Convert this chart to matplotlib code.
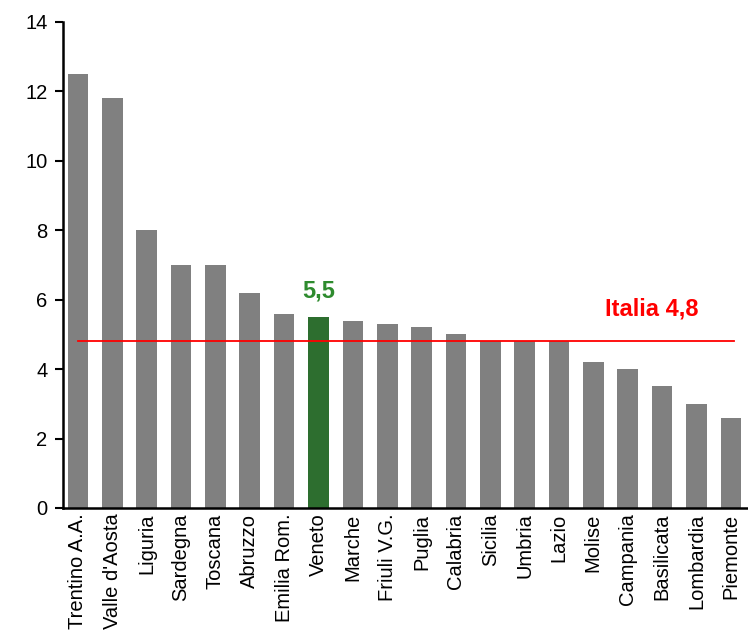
import numpy as np
import matplotlib.pyplot as plt

plt.rcParams['font.family'] = ['Liberation Sans', 'DejaVu Sans']

# regional values
regions = ['Trentino A.A.', "Valle d'Aosta", 'Liguria', 'Sardegna', 'Toscana',
           'Abruzzo', 'Emilia Rom.', 'Veneto', 'Marche', 'Friuli V.G.',
           'Puglia', 'Calabria', 'Sicilia', 'Umbria', 'Lazio', 'Molise',
           'Campania', 'Basilicata', 'Lombardia', 'Piemonte']
values = [12.5, 11.8, 8.0, 7.0, 7.0, 6.2, 5.6, 5.5, 5.4, 5.3,
          5.2, 5.0, 4.8, 4.8, 4.8, 4.2, 4.0, 3.5, 3.0, 2.6]
italia = 4.8
highlight = 'Veneto'

fig = plt.figure(figsize=(7.48, 6.43), dpi=100)
ax = fig.add_axes([0.084, 0.21, 0.916, 0.7558])

x = np.arange(len(regions))
colors = ['#2d6e2f' if r == highlight else '#808080' for r in regions]
ax.bar(x, values, width=0.6, color=colors)

ax.plot([x[0], x[-1] + 0.1], [italia, italia], color='red', lw=1.3)
ax.text(x[-4] + 0.7, italia + 0.75, 'Italia 4,8', color='red',
        fontsize=17, fontweight='bold', ha='center')
iv = regions.index(highlight)
ax.text(x[iv], values[iv] + 0.55, '5,5', color='#2e8b2e',
        fontsize=17, fontweight='bold', ha='center')

ax.set_xlim(-0.44, 19.5)
ax.set_ylim(0, 14)
ax.set_yticks(np.arange(0, 15, 2))
ax.set_xticks(x)
ax.set_xticklabels(regions, rotation=90, fontsize=14.5)
ax.tick_params(axis='y', labelsize=14.5, length=6, width=1.5, pad=5)
ax.tick_params(axis='x', length=0, pad=4)

for s in ['top', 'right']:
    ax.spines[s].set_visible(False)
ax.spines['left'].set_linewidth(1.8)
ax.spines['bottom'].set_linewidth(1.8)

fig.savefig('out.png', dpi=100)
